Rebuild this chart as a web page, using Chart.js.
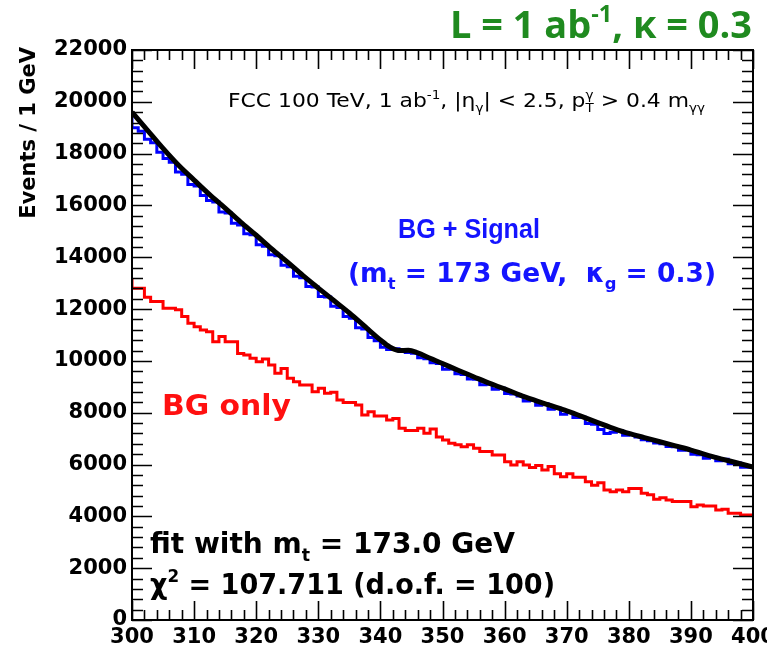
<!DOCTYPE html>
<html>
<head>
<meta charset="utf-8">
<script src="https://cdn.jsdelivr.net/npm/chart.js@4.4.1/dist/chart.umd.min.js"></script>
<style>
  html, body { margin: 0; padding: 0; background: #ffffff; }
  #wrap { width: 767px; height: 653px; position: relative; }
</style>
</head>
<body>
<div id="wrap"><canvas id="c" width="767" height="653"></canvas></div>
<script>
// Diphoton mass bins: low edges in GeV, 1 GeV wide
const binLow = Array.from({ length: 100 }, (_, i) => 300 + i);

// Background-only histogram (events per bin)
const bgOnly = [
  13160, 12800, 12800, 12460, 12290, 12290, 12030, 12030, 11970, 11710,
  11450, 11320, 11190, 11130, 10740, 10940, 10740, 10740, 10290, 10230,
  10100, 9970, 10070, 9840, 9520, 9710, 9330, 9200, 9070, 9070,
  8810, 8940, 8750, 8790, 8490, 8390, 8390, 8300, 7910, 8040,
  7870, 7870, 7720, 7780, 7400, 7310, 7310, 7400, 7210, 7370,
  7060, 6950, 6820, 6760, 6690, 6760, 6630, 6500, 6500, 6370,
  6370, 6110, 5980, 6110, 5980, 5890, 5960, 5790, 5920, 5640,
  5530, 5640, 5510, 5510, 5340, 5200, 5300, 5020, 4950, 5020,
  4950, 5080, 5080, 4890, 4830, 4660, 4720, 4630, 4570, 4570,
  4570, 4370, 4440, 4400, 4400, 4250, 4270, 4120, 4120, 4050
];

// Background + signal histogram (events per bin)
const bgSignal = [
  19620, 19000, 18860, 18560, 18420, 18050, 17810, 17670, 17290, 17200,
  16810, 16750, 16380, 16190, 16130, 15750, 15710, 15310, 15250, 14910,
  14870, 14480, 14430, 14100, 14060, 13690, 13630, 13270, 13210, 12870,
  12850, 12490, 12470, 12110, 12060, 11710, 11650, 11280, 11230, 10900,
  10780, 10530, 10440, 10470, 10360, 10320, 10300, 10120, 10080, 9930,
  9900, 9680, 9690, 9500, 9480, 9300, 9290, 9080, 9100, 8910,
  8940, 8740, 8720, 8650, 8450, 8480, 8290, 8350, 8130, 8170,
  7940, 8010, 7820, 7830, 7580, 7560, 7350, 7200, 7250, 7300,
  7130, 7150, 7060, 6960, 6920, 6830, 6800, 6700, 6690, 6550,
  6560, 6400, 6380, 6240, 6290, 6150, 6200, 6030, 6060, 5900
];

// Fitted curve sampled along the mass axis
const fitMass = [300, 302.5, 305, 307.5, 310, 312.5, 315, 317.5, 320, 322.5, 325, 327.5, 330, 332.5, 335, 337.5, 340, 341.5, 343, 344.5, 346, 348, 350, 352.5, 355, 357.5, 360, 362.5, 365, 367.5, 370, 372.5, 375, 377.5, 380, 382.5, 385, 387.5, 390, 392.5, 395, 397.5, 400];
const fitEvents = [19600, 18900, 18200, 17550, 16980, 16420, 15900, 15360, 14850, 14320, 13820, 13300, 12810, 12330, 11850, 11330, 10810, 10540, 10400, 10410, 10310, 10100, 9900, 9640, 9390, 9140, 8920, 8680, 8470, 8270, 8070, 7850, 7620, 7400, 7200, 7040, 6880, 6720, 6560, 6370, 6210, 6060, 5900];

// Axis tick labels
const xTicks = [300, 310, 320, 330, 340, 350, 360, 370, 380, 390, 400];
const yTicks = [0, 2000, 4000, 6000, 8000, 10000, 12000, 14000, 16000, 18000, 20000, 22000];
const xMinorStep = 2;
const yMinorStep = 400;

// Step histogram points: one point per low edge plus the closing upper edge
function histPoints(values) {
  const pts = binLow.map((x, i) => ({ x: x, y: values[i] }));
  pts.push({ x: binLow[binLow.length - 1] + 1, y: values[values.length - 1] });
  return pts;
}

const SANS = '"DejaVu Sans", Verdana, sans-serif';
const HELV = '"Liberation Sans", Arial, sans-serif';
const OPEN = '"Open Sans", "DejaVu Sans", sans-serif';

function partWidth(ctx, p, size, weight, family) {
  const s = (p.sub || p.sup) ? size * 0.62 : size;
  ctx.font = `${weight} ${s}px ${family}`;
  let pw = ctx.measureText(p.t).width;
  if (p.over) {
    ctx.font = `${weight} ${size * 0.62}px ${family}`;
    pw = Math.max(pw, ctx.measureText(p.over).width);
  }
  return pw;
}
function richWidth(ctx, parts, size, weight, family) {
  return parts.reduce((w, p) => w + partWidth(ctx, p, size, weight, family), 0);
}
// Text run with sub/superscripts, optionally squeezed or widened to a given span
function drawRich(ctx, parts, x, y, o) {
  const { size, weight = 'bold', family = SANS, color = '#000', align = 'left', span } = o;
  ctx.save();
  ctx.fillStyle = color;
  ctx.textBaseline = 'alphabetic';
  ctx.textAlign = 'left';
  const natural = richWidth(ctx, parts, size, weight, family);
  const k = span ? span / natural : 1;
  const left = align === 'right' ? x - natural * k : x;
  ctx.translate(left, y);
  ctx.scale(k, 1);
  let cx = 0;
  for (const p of parts) {
    const s = (p.sub || p.sup) ? size * 0.62 : size;
    ctx.font = `${weight} ${s}px ${family}`;
    const dy = p.sub ? size * 0.28 : (p.sup ? -size * 0.42 : 0);
    ctx.fillText(p.t, cx, dy);
    if (p.over) {
      ctx.font = `${weight} ${size * 0.62}px ${family}`;
      ctx.fillText(p.over, cx, -size * 0.42);
    }
    cx += partWidth(ctx, p, size, weight, family);
  }
  ctx.restore();
}

// Frame with inward-pointing ticks on all four sides
const framePlugin = {
  id: 'frame',
  afterDatasetsDraw(chart) {
    const { ctx, chartArea: a, scales: { x, y } } = chart;
    ctx.save();
    ctx.strokeStyle = '#000';
    ctx.lineWidth = 1.6;
    ctx.beginPath();
    for (let v = xTicks[0]; v <= xTicks[xTicks.length - 1] + 1e-9; v += xMinorStep) {
      const px = Math.round(x.getPixelForValue(v)) + 0.5;
      const len = xTicks.includes(v) ? 19 : 10;
      ctx.moveTo(px, a.bottom); ctx.lineTo(px, a.bottom - len);
      ctx.moveTo(px, a.top); ctx.lineTo(px, a.top + len);
    }
    for (let v = yTicks[0]; v <= yTicks[yTicks.length - 1] + 1e-9; v += yMinorStep) {
      const py = Math.round(y.getPixelForValue(v)) + 0.5;
      const len = yTicks.includes(v) ? 20 : 11;
      ctx.moveTo(a.left, py); ctx.lineTo(a.left + len, py);
      ctx.moveTo(a.right, py); ctx.lineTo(a.right - len, py);
    }
    ctx.stroke();
    ctx.lineWidth = 2;
    ctx.strokeRect(a.left, a.top, a.right - a.left, a.bottom - a.top);
    ctx.restore();
  }
};

// Header, in-plot labels and axis title
const textPlugin = {
  id: 'labels',
  afterDraw(chart) {
    const ctx = chart.ctx;
    drawRich(ctx, [{ t: 'L = 1 ab' }, { t: '-1', sup: true }, { t: ', \u03ba = 0.3' }],
      752, 38, { size: 38, family: OPEN, color: '#1f8a1f', align: 'right', span: 302 });

    drawRich(ctx, [
      { t: 'FCC 100 TeV, 1 ab' }, { t: '-1', sup: true }, { t: ', |\u03b7' }, { t: '\u03b3', sub: true },
      { t: '| < 2.5, p' }, { t: 'T', sub: true, over: '\u03b3' }, { t: ' > 0.4 m' }, { t: '\u03b3\u03b3', sub: true }
    ], 228, 107, { size: 19, weight: 'normal', span: 477 });

    drawRich(ctx, [{ t: 'BG + Signal' }], 398, 238, { size: 28, family: HELV, color: '#1414ff', span: 142 });
    drawRich(ctx, [{ t: '(m' }, { t: 't', sub: true }, { t: ' = 173 GeV,  \u03ba' }, { t: 'g', sub: true }, { t: ' = 0.3)' }],
      348, 282, { size: 26, color: '#1414ff', span: 368 });

    drawRich(ctx, [{ t: 'BG only' }], 162, 415, { size: 28, color: '#ff1010', span: 129 });

    drawRich(ctx, [{ t: 'fit with m' }, { t: 't', sub: true }, { t: ' = 173.0 GeV' }], 150, 553,
      { size: 28, span: 365 });
    drawRich(ctx, [{ t: '\u03c7' }, { t: '2', sup: true }, { t: ' = 107.711 (d.o.f. = 100)' }], 150, 594,
      { size: 28, span: 405 });

    ctx.save();
    ctx.translate(35, 47);
    ctx.rotate(-Math.PI / 2);
    ctx.font = `bold 21px ${SANS}`;
    ctx.fillStyle = '#000';
    ctx.textAlign = 'right';
    ctx.textBaseline = 'alphabetic';
    ctx.fillText('Events / 1 GeV', 0, 0);
    ctx.restore();
  }
};

new Chart(document.getElementById('c'), {
  type: 'line',
  data: {
    datasets: [
      {
        label: 'fit',
        data: fitMass.map((m, i) => ({ x: m, y: fitEvents[i] })),
        borderColor: '#000000',
        borderWidth: 5,
        pointRadius: 0,
        cubicInterpolationMode: 'monotone',
        fill: false,
        order: 0
      },
      {
        label: 'BG + Signal',
        data: histPoints(bgSignal),
        borderColor: '#0000ff',
        borderWidth: 3,
        pointRadius: 0,
        stepped: 'after',
        fill: false,
        order: 1
      },
      {
        label: 'BG only',
        data: histPoints(bgOnly),
        borderColor: '#ff0000',
        borderWidth: 3,
        pointRadius: 0,
        stepped: 'after',
        fill: false,
        order: 2
      }
    ]
  },
  options: {
    responsive: false,
    animation: false,
    devicePixelRatio: 1,
    layout: { padding: { top: 50, right: 14, left: 0, bottom: 0 } },
    plugins: { legend: { display: false }, tooltip: { enabled: false } },
    scales: {
      x: {
        type: 'linear',
        min: 300,
        max: 400,
        afterBuildTicks: s => { s.ticks = xTicks.map(v => ({ value: v })); },
        grid: { display: false, drawTicks: false },
        border: { display: false },
        ticks: {
          color: '#000',
          font: { family: SANS, weight: 'bold', size: 21 },
          padding: 5,
          maxRotation: 0,
          autoSkip: false,
          callback: v => String(v)
        },
        afterFit: s => { s.height = 33; s.paddingLeft = 0; s.paddingRight = 0; }
      },
      y: {
        type: 'linear',
        min: 0,
        max: 22000,
        afterBuildTicks: s => { s.ticks = yTicks.map(v => ({ value: v })); },
        grid: { display: false, drawTicks: false },
        border: { display: false },
        ticks: {
          color: '#000',
          font: { family: SANS, weight: 'bold', size: 21 },
          padding: 5,
          autoSkip: false,
          callback: v => String(v)
        },
        afterFit: s => { s.width = 132; s.paddingTop = 0; s.paddingBottom = 0; }
      }
    }
  },
  plugins: [framePlugin, textPlugin]
});
</script>
</body>
</html>
